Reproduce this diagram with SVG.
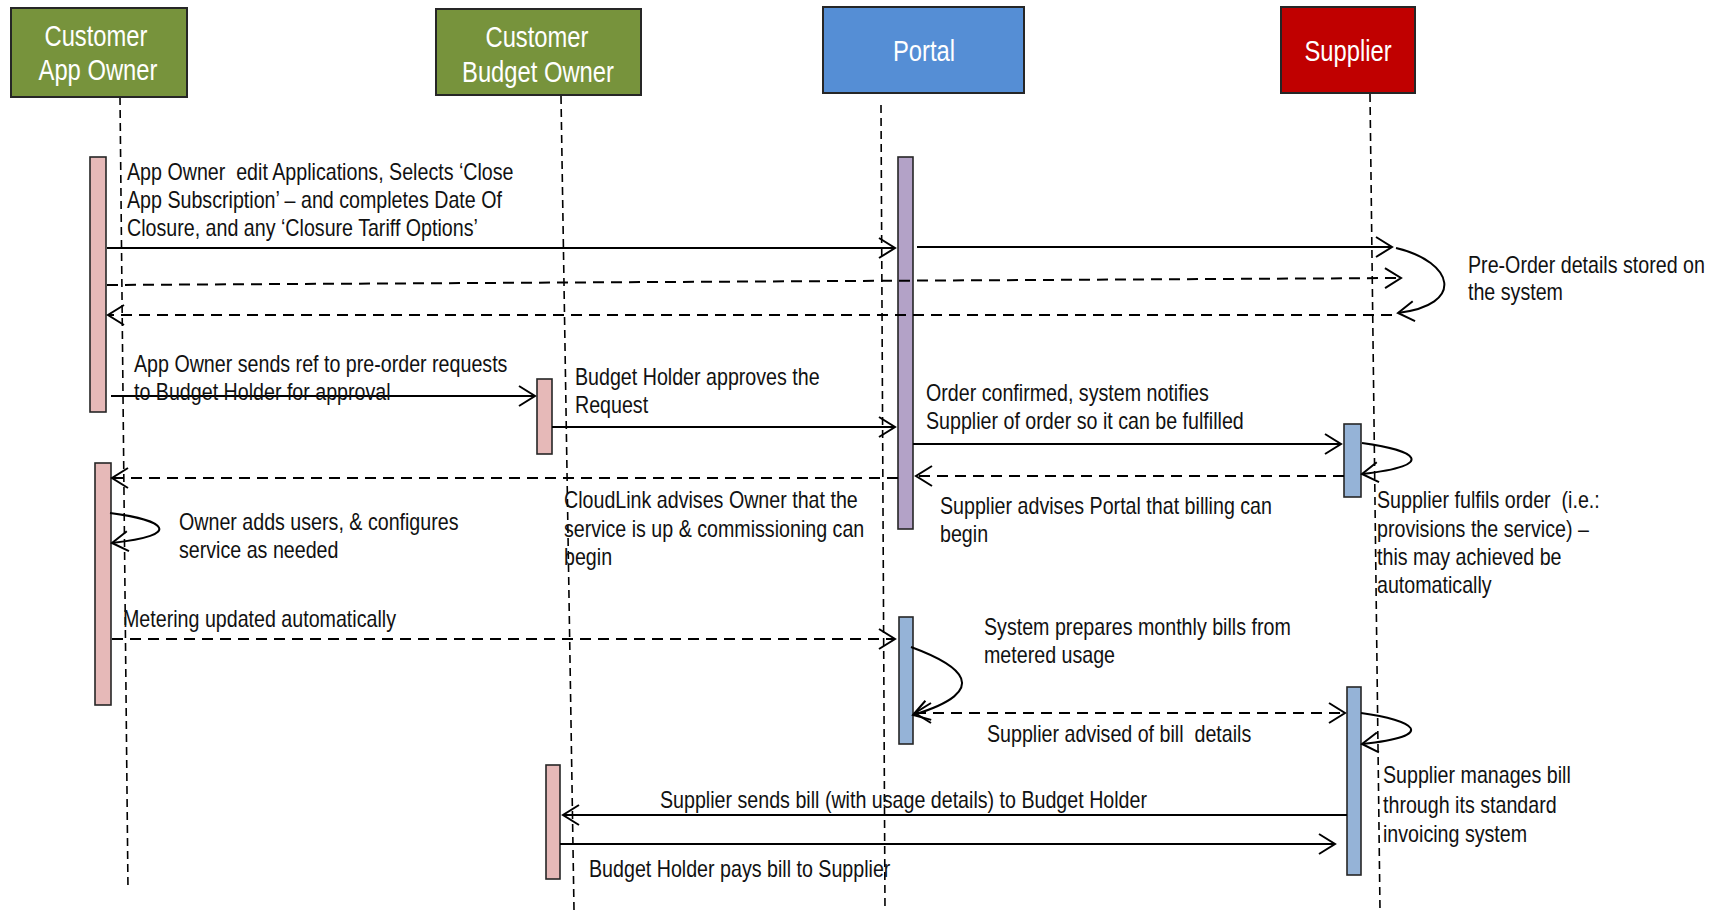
<svg xmlns="http://www.w3.org/2000/svg" width="1721" height="910" viewBox="0 0 1721 910">
  <style>
    .hdr { stroke: #262626; stroke-width: 2; }
    .hdr-text { font-family: "Liberation Sans", Arial, sans-serif; font-size: 29px; fill: #ffffff; text-anchor: middle; }
    .life { stroke: #000; stroke-width: 1.6; stroke-dasharray: 8 5; fill: none; }
    .act { stroke: #262626; stroke-width: 1.6; }
    .pink { fill: #E6B9B8; }
    .purple { fill: #B3A2C7; }
    .blue { fill: #95B3D7; }
    .msg { stroke: #000; stroke-width: 2; fill: none; marker-end: url(#open); }
    .ret { stroke: #000; stroke-width: 2; fill: none; stroke-dasharray: 11 7; marker-end: url(#open); }
    .lbl { font-family: "Liberation Sans", Arial, sans-serif; font-size: 23px; fill: #111; white-space: pre; }
  </style>
  <defs>
    <marker id="open" markerUnits="userSpaceOnUse" markerWidth="24" markerHeight="24" viewBox="-20 -12 24 24" refX="0" refY="0" orient="auto-start-reverse">
      <path d="M-16,-10 L0,0 L-16,10" fill="none" stroke="#000" stroke-width="2"/>
    </marker>
  </defs>

  <rect width="1721" height="910" fill="#ffffff"/>

  <!-- lifelines -->
  <g id="lifelines">
    <line class="life" x1="120" y1="97" x2="128" y2="890"/>
    <line class="life" x1="561" y1="96" x2="574" y2="910"/>
    <line class="life" x1="881" y1="105" x2="885" y2="910"/>
    <line class="life" x1="1370" y1="94" x2="1380" y2="910"/>
  </g>

  <!-- participants; header captions are condensed horizontally -->
  <g id="app-owner">
    <rect class="hdr" x="11" y="8" width="176" height="89" fill="#77933C"/>
    <g transform="scale(0.82 1)">
      <text class="hdr-text" x="117.07" y="46">Customer</text>
      <text class="hdr-text" x="119.51" y="80">App Owner</text>
    </g>
    <rect class="act pink" x="90" y="157" width="16" height="255"/>
    <rect class="act pink" x="95" y="463" width="16" height="242"/>
  </g>
  <g id="budget-owner">
    <rect class="hdr" x="436" y="9" width="205" height="86" fill="#77933C"/>
    <g transform="scale(0.82 1)">
      <text class="hdr-text" x="654.88" y="47">Customer</text>
      <text class="hdr-text" x="656.10" y="82">Budget Owner</text>
    </g>
    <rect class="act pink" x="537" y="379" width="15" height="75"/>
    <rect class="act pink" x="546" y="765" width="14" height="114"/>
  </g>
  <g id="portal">
    <rect class="hdr" x="823" y="7" width="201" height="86" fill="#558ED5"/>
    <g transform="scale(0.82 1)">
      <text class="hdr-text" x="1126.83" y="61">Portal</text>
    </g>
    <rect class="act purple" x="898" y="157" width="15" height="372"/>
    <rect class="act blue" x="899" y="617" width="14" height="127"/>
  </g>
  <g id="supplier">
    <rect class="hdr" x="1281" y="7" width="134" height="86" fill="#C00000"/>
    <g transform="scale(0.82 1)">
      <text class="hdr-text" x="1643.90" y="61">Supplier</text>
    </g>
    <rect class="act blue" x="1344" y="424" width="17" height="73"/>
    <rect class="act blue" x="1347" y="687" width="14" height="188"/>
  </g>

  <!-- messages -->
  <g id="connectors">
    <line class="msg" x1="107" y1="248" x2="895" y2="248"/>
    <line class="msg" x1="917" y1="247" x2="1392" y2="247"/>
    <line class="ret" x1="107" y1="285" x2="1401" y2="278"/>
    <path class="msg" d="M1396,248 C1455,262 1465,305 1398,313"/>
    <line class="ret" x1="1392" y1="315" x2="108" y2="315"/>
    <line class="msg" x1="111" y1="396" x2="535" y2="396"/>
    <line class="msg" x1="552" y1="427" x2="895" y2="427"/>
    <line class="msg" x1="913" y1="444" x2="1341" y2="444"/>
    <line class="ret" x1="1344" y1="476" x2="916" y2="476"/>
    <path class="msg" d="M1362,443 C1415,450 1440,465 1362,474"/>
    <line class="ret" x1="898" y1="478" x2="112" y2="478"/>
    <path class="msg" d="M110,513 C165,520 185,535 112,543"/>
    <line class="ret" x1="112" y1="639" x2="895" y2="639"/>
    <path class="msg" d="M911,647 C960,665 995,690 913,715"/>
    <line class="ret" x1="915" y1="713" x2="1345" y2="713" marker-start="url(#open)"/>
    <path class="msg" d="M1361,713 C1414,720 1440,736 1362,744"/>
    <line class="msg" x1="1347" y1="815" x2="563" y2="815"/>
    <line class="msg" x1="560" y1="844" x2="1335" y2="844"/>
  </g>

  <!-- notes; condensed horizontally, so x values are divided by 0.855 -->
  <g id="labels" transform="scale(0.855 1)">
    <text class="lbl" x="148.54" y="180">App Owner  edit Applications, Selects ‘Close</text>
    <text class="lbl" x="148.54" y="208">App Subscription’ – and completes Date Of</text>
    <text class="lbl" x="148.54" y="236">Closure, and any ‘Closure Tariff Options’</text>

    <text class="lbl" x="1716.96" y="273">Pre-Order details stored on</text>
    <text class="lbl" x="1716.96" y="300">the system</text>

    <text class="lbl" x="156.73" y="372">App Owner sends ref to pre-order requests</text>
    <text class="lbl" x="156.73" y="400">to Budget Holder for approval</text>

    <text class="lbl" x="672.51" y="385">Budget Holder approves the</text>
    <text class="lbl" x="672.51" y="413">Request</text>

    <text class="lbl" x="1083.04" y="401">Order confirmed, system notifies</text>
    <text class="lbl" x="1083.04" y="429">Supplier of order so it can be fulfilled</text>

    <text class="lbl" x="659.65" y="508">CloudLink advises Owner that the</text>
    <text class="lbl" x="659.65" y="537">service is up &amp; commissioning can</text>
    <text class="lbl" x="659.65" y="565">begin</text>

    <text class="lbl" x="1099.42" y="514">Supplier advises Portal that billing can</text>
    <text class="lbl" x="1099.42" y="542">begin</text>

    <text class="lbl" x="1610.53" y="508">Supplier fulfils order  (i.e.:</text>
    <text class="lbl" x="1610.53" y="537">provisions the service) –</text>
    <text class="lbl" x="1610.53" y="565">this may achieved be</text>
    <text class="lbl" x="1610.53" y="593">automatically</text>

    <text class="lbl" x="209.36" y="530">Owner adds users, &amp; configures</text>
    <text class="lbl" x="209.36" y="558">service as needed</text>

    <text class="lbl" x="143.86" y="627">Metering updated automatically</text>

    <text class="lbl" x="1150.88" y="635">System prepares monthly bills from</text>
    <text class="lbl" x="1150.88" y="663">metered usage</text>

    <text class="lbl" x="1154.39" y="742">Supplier advised of bill  details</text>

    <text class="lbl" x="1617.54" y="783">Supplier manages bill</text>
    <text class="lbl" x="1617.54" y="813">through its standard</text>
    <text class="lbl" x="1617.54" y="842">invoicing system</text>

    <text class="lbl" x="771.93" y="808">Supplier sends bill (with usage details) to Budget Holder</text>
    <text class="lbl" x="688.89" y="877">Budget Holder pays bill to Supplier</text>
  </g>
</svg>
